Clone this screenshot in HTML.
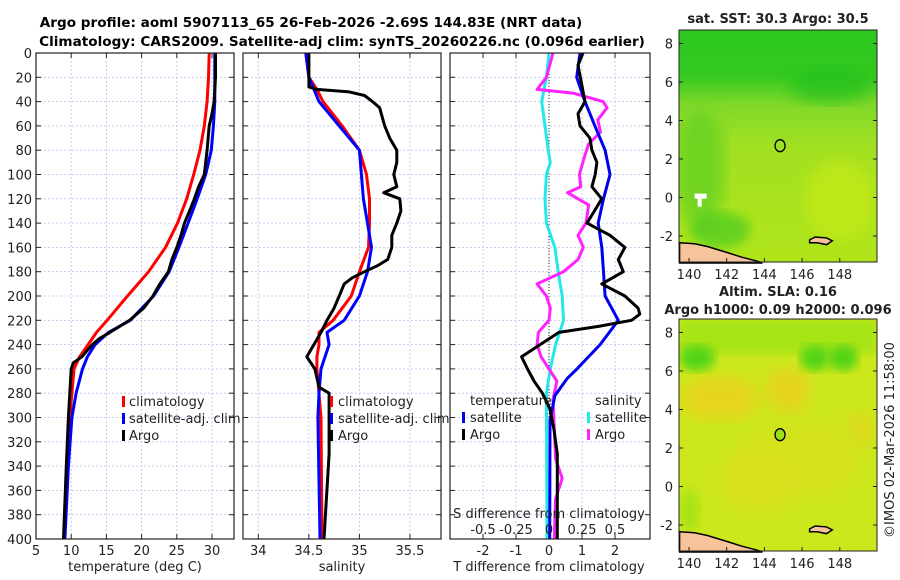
<!DOCTYPE html>
<html><head><meta charset="utf-8">
<style>
html,body{margin:0;padding:0;background:#fff;}
svg{display:block;font-family:"DejaVu Sans","Liberation Sans",sans-serif;}
</style></head>
<body>
<svg id="chart" width="900" height="580" viewBox="0 0 900 580" xmlns="http://www.w3.org/2000/svg">
<text x="311" y="27" font-size="13.6" font-weight="bold" text-anchor="middle">Argo profile: aoml 5907113_65 26-Feb-2026 -2.69S 144.83E (NRT data)</text>
<text x="342" y="46" font-size="13.6" font-weight="bold" text-anchor="middle">Climatology: CARS2009. Satellite-adj clim: synTS_20260226.nc (0.096d earlier)</text>
<g id="p1"></g>
<g id="p2"></g>
<g id="p3"></g>
<g id="m1"></g>
<g id="m2"></g>
<text x="0" y="0" font-size="13" fill="#222" transform="translate(894,440) rotate(-90)" text-anchor="middle">©IMOS 02-Mar-2026 11:58:00</text>
</svg>
<script>
// ---------- data ----------
const yTicks=[0,20,40,60,80,100,120,140,160,180,200,220,240,260,280,300,320,340,360,380,400];
const tTicks=[5,10,15,20,25,30];
const sTicks=[34,34.5,35,35.5];
const dTTicks=[-2,-1,0,1,2];
const dSTicks=[-0.5,-0.25,0,0.25,0.5];
const dSTickLabels=["-0.5","-0.25","0","0.25","0.5"];

const climTDepth=[0,20,40,60,80,100,120,140,160,180,200,220,230,240,250,260,280,300,340,400];
const climT=[29.6,29.5,29.3,28.9,28.3,27.4,26.4,25.1,23.4,21.0,18.0,15.1,13.6,12.4,11.2,10.4,10.1,9.8,9.4,9.0];
const satTDepth=[0,20,40,60,80,100,120,140,160,180,200,220,230,240,250,260,280,300,340,400];
const satT=[30.4,30.4,30.4,30.2,29.9,29.1,27.9,26.6,25.3,23.9,21.7,18.4,15.3,13.4,12.3,11.6,10.7,10.1,9.6,9.1];
const argoTDepth=[0,20,40,50,60,80,100,110,120,130,140,150,160,170,180,190,200,210,220,230,235,240,250,255,260,280,300,340,400];
const argoT=[30.5,30.5,30.3,30.0,29.6,29.3,28.9,28.1,27.5,26.8,26.1,25.6,25.0,24.3,23.8,22.6,21.6,20.3,18.3,15.5,14.0,13.0,11.5,10.3,10.0,9.8,9.6,9.3,8.9];

const climSDepth=[0,20,30,40,60,80,100,120,140,160,180,200,220,230,240,250,260,300,400];
const climS=[34.47,34.5,34.58,34.64,34.83,35.0,35.07,35.1,35.1,35.09,35.0,34.92,34.74,34.6,34.6,34.58,34.58,34.62,34.63];
const satSDepth=[0,20,40,60,80,100,120,140,160,180,200,220,230,240,260,280,300,400];
const satS=[34.47,34.5,34.6,34.8,35.0,35.02,35.04,35.08,35.12,35.08,35.0,34.85,34.68,34.7,34.62,34.6,34.59,34.61];
const argoSDepth=[0,20,28,30,32,35,40,45,60,70,80,90,100,110,115,120,130,140,150,160,170,175,180,185,190,200,210,220,230,240,250,260,275,280,300,330,400];
const argoS=[34.5,34.5,34.5,34.58,34.9,35.05,35.13,35.2,35.25,35.3,35.37,35.37,35.34,35.37,35.24,35.4,35.41,35.37,35.32,35.32,35.28,35.18,35.05,34.93,34.85,34.8,34.75,34.68,34.62,34.55,34.48,34.56,34.6,34.7,34.7,34.7,34.65];

const dTSatDepth=[0,20,40,60,80,100,120,140,160,180,200,220,240,260,268,282,302,400];
const dTSat=[0.94,0.84,1.09,1.39,1.7,1.85,1.65,1.49,1.6,1.65,1.7,2.1,1.55,0.85,0.55,0.18,0.03,0.02];
const dTArgoDepth=[0,10,40,50,60,70,80,90,100,110,120,140,150,160,170,180,190,200,210,215,220,225,230,240,250,260,270,280,293,310,330,400];
const dTArgo=[1.03,0.88,1.09,0.88,0.94,1.24,1.3,1.45,1.4,1.3,1.6,1.15,1.85,2.3,2.1,2.25,1.6,2.3,2.7,2.75,2.5,1.5,0.3,-0.27,-0.83,-0.65,-0.45,-0.2,0.03,0.15,0.25,0.25];
const dSSatDepth=[0,20,40,60,80,90,100,120,140,160,180,200,220,240,260,280,400];
const dSSat=[0.0,-0.02,-0.055,-0.03,-0.005,0.01,-0.02,-0.03,-0.02,0.045,0.07,0.1,0.11,0.05,0.01,-0.02,-0.015];
const dSArgoDepth=[0,20,30,33,40,45,55,65,75,85,100,110,115,125,140,150,160,170,180,190,200,210,220,230,240,250,260,270,285,310,334,350,367,400];
const dSArgo=[0.03,-0.02,-0.09,0.18,0.41,0.44,0.37,0.39,0.3,0.27,0.23,0.24,0.14,0.3,0.28,0.22,0.26,0.22,0.11,-0.09,-0.02,0.01,0.0,-0.08,-0.09,-0.06,0.0,0.06,0.03,0.04,0.05,0.1,0.05,0.04];

const profLat=2.69, profLon=144.83;
const lonTicks=[140,142,144,146,148];
const latTicks=[-2,0,2,4,6,8];

// ---------- helpers ----------
const NS="http://www.w3.org/2000/svg";
function mk(tag,attrs,parent){const e=document.createElementNS(NS,tag);for(const k in attrs)e.setAttribute(k,attrs[k]);parent.appendChild(e);return e;}
const TOP=53,BOT=539;
const yScale=d=>TOP+(d/400)*(BOT-TOP);

function panel(g,x0,x1,xs,xticks,xlabels,showY){
  mk('rect',{x:x0,y:TOP,width:x1-x0,height:BOT-TOP,fill:'#fff'},g);
  yTicks.forEach(t=>{
    const l=mk('line',{x1:x0,x2:x1,y1:yScale(t),y2:yScale(t),stroke:'#b8c4ee','stroke-width':0.8,'stroke-dasharray':'2,2'},g);
    
    
    mk('line',{x1:x0,x2:x0+5,y1:yScale(t),y2:yScale(t),stroke:'#222'},g);
    mk('line',{x1:x1-5,x2:x1,y1:yScale(t),y2:yScale(t),stroke:'#222'},g);
    if(showY){const tx=mk('text',{x:x0-4,y:yScale(t)+5,'font-size':13,'text-anchor':'end',fill:'#222'},g);tx.textContent=t;
      
      }
  });
  xticks.forEach((t,i)=>{
    const X=xs(t);
    const l=mk('line',{x1:X,x2:X,y1:TOP,y2:BOT,stroke:'#b8c4ee','stroke-width':0.8,'stroke-dasharray':'2,2'},g);
    
    
    mk('line',{x1:X,x2:X,y1:BOT-5,y2:BOT,stroke:'#222'},g);
    mk('line',{x1:X,x2:X,y1:TOP,y2:TOP+5,stroke:'#222'},g);
    if(xlabels){const tx=mk('text',{x:X,y:BOT+16,'font-size':13,'text-anchor':'middle',fill:'#222'},g);tx.textContent=xlabels[i];
      
      }
  });
}
function frame(g,x0,x1){mk('rect',{x:x0,y:TOP,width:x1-x0,height:BOT-TOP,fill:'none',stroke:'#222','stroke-width':1.2},g);}
function line(g,xs,vals,depths,color,name,w){
  const pts=vals.map((v,i)=>xs(v).toFixed(1)+','+yScale(depths[i]).toFixed(1)).join(' ');
  const p=mk('polyline',{points:pts,fill:'none',stroke:color,'stroke-width':w||3,'stroke-linejoin':'round'},g);
  
  
}
function txt(g,x,y,s,size,anchor,name,extra){
  const t=mk('text',Object.assign({x:x,y:y,'font-size':size,'text-anchor':anchor||'start',fill:'#222'},extra||{}),g);t.textContent=s;
  
  
  return t;
}
function legendMark(g,x,y,color,name){
  const r=mk('rect',{x:x,y:y-10,width:3,height:11,fill:color},g);
  
  
}

// ---------- panel 1: temperature ----------
const g1=document.getElementById('p1');
const xT=v=>36+(v-5)*7.04;
panel(g1,36,234,xT,tTicks,tTicks,true);
line(g1,xT,climT,climTDepth,'#ff0000','climatology-temp-line');
line(g1,xT,satT,satTDepth,'#0000ff','satellite-temp-line');
line(g1,xT,argoT,argoTDepth,'#000000','argo-temp-line');
frame(g1,36,234);
legendMark(g1,122,406,'#ff0000','legend-climatology-mark');
txt(g1,129,406,'climatology',13,'start','legend-climatology');
legendMark(g1,122,423,'#0000ff','legend-satellite-mark');
txt(g1,129,423,'satellite-adj. clim',13,'start','legend-satellite');
legendMark(g1,122,440,'#000000','legend-argo-mark');
txt(g1,129,440,'Argo',13,'start','legend-argo');
txt(g1,135,571,'temperature (deg C)',13,'middle','x-axis-title-temperature');

// ---------- panel 2: salinity ----------
const g2=document.getElementById('p2');
const xS=v=>258.3+(v-34)*101.1;
panel(g2,243,441,xS,sTicks,sTicks,false);
line(g2,xS,climS,climSDepth,'#ff0000','climatology-salinity-line');
line(g2,xS,satS,satSDepth,'#0000ff','satellite-salinity-line');
line(g2,xS,argoS,argoSDepth,'#000000','argo-salinity-line');
frame(g2,243,441);
legendMark(g2,330,406,'#ff0000','legend2-climatology-mark');
txt(g2,338,406,'climatology',13,'start','legend2-climatology');
legendMark(g2,330,423,'#0000ff','legend2-satellite-mark');
txt(g2,338,423,'satellite-adj. clim',13,'start','legend2-satellite');
legendMark(g2,330,440,'#000000','legend2-argo-mark');
txt(g2,338,440,'Argo',13,'start','legend2-argo');
txt(g2,342,571,'salinity',13,'middle','x-axis-title-salinity');

// ---------- panel 3: differences ----------
const g3=document.getElementById('p3');
const xdT=v=>549+v*33;
const xdS=v=>549+v*132;
panel(g3,450,650,xdT,dTTicks,dTTicks,false);
const z=mk('line',{x1:xdT(0),x2:xdT(0),y1:TOP,y2:BOT,stroke:'#333','stroke-width':1,'stroke-dasharray':'1,2'},g3);


line(g3,xdS,dSSat,dSSatDepth,'#22e8e8','satellite-salinity-diff-line');
line(g3,xdS,dSArgo,dSArgoDepth,'#ff22ff','argo-salinity-diff-line');
line(g3,xdT,dTSat,dTSatDepth,'#0000ee','satellite-temp-diff-line');
line(g3,xdT,dTArgo,dTArgoDepth,'#000000','argo-temp-diff-line');
frame(g3,450,650);
txt(g3,470,405,'temperature',13,'start','legend3-temperature-heading');
txt(g3,595,405,'salinity',13,'start','legend3-salinity-heading');
legendMark(g3,462,422,'#0000ee','legend3-temp-satellite-mark');
txt(g3,470,422,'satellite',13,'start','legend3-temp-satellite');
legendMark(g3,462,439,'#000000','legend3-temp-argo-mark');
txt(g3,470,439,'Argo',13,'start','legend3-temp-argo');
legendMark(g3,587,422,'#22e8e8','legend3-sal-satellite-mark');
txt(g3,595,422,'satellite',13,'start','legend3-sal-satellite');
legendMark(g3,587,439,'#ff22ff','legend3-sal-argo-mark');
txt(g3,595,439,'Argo',13,'start','legend3-sal-argo');
txt(g3,549,518,'S difference from climatology',13,'middle','s-axis-title');
dSTicks.forEach((t,i)=>{
  txt(g3,xdS(t),534,dSTickLabels[i],13,'middle','s-tick-label');
});
txt(g3,549,571,'T difference from climatology',13,'middle','x-axis-title-tdiff');

// ---------- maps ----------
function map(gid,y0,y1,title,title2,fillFn,lonPx){
  const g=document.getElementById(gid);
  const x0=679,x1=877;
  const lonS=v=>lonPx(v);
  const latS=v=>y0+(8.7-v)*((y1-y0)/(8.7+3.35));
  fillFn(g,x0,y0,x1,y1,lonS,latS);
  const land=[[139.5,-2.35],[140.3,-2.4],[141,-2.55],[142,-2.85],[142.8,-3.1],[143.6,-3.3],[143.9,-3.4],[139.5,-3.4]];
  const lp=mk('polygon',{points:land.map(p=>lonS(p[0])+','+latS(p[1])).join(' '),fill:'#f7c39a',stroke:'#000','stroke-width':1.5},g);
  
  
  const isl=[[146.4,-2.2],[146.7,-2.05],[147.3,-2.1],[147.6,-2.25],[147.3,-2.45],[146.8,-2.35],[146.4,-2.35]];
  const ip=mk('polygon',{points:isl.map(p=>lonS(p[0])+','+latS(p[1])).join(' '),fill:'#f7c39a',stroke:'#000','stroke-width':1.5},g);
  
  
  const c=mk('ellipse',{cx:lonS(profLon),cy:latS(profLat),rx:5,ry:6,fill:gid==='m2'?'#9be01a':'none',stroke:'#000','stroke-width':1.3},g);
  
  
  mk('rect',{x:x0,y:y0,width:x1-x0,height:y1-y0,fill:'none',stroke:'#222','stroke-width':1},g);
  lonTicks.forEach(t=>{
    mk('line',{x1:lonS(t),x2:lonS(t),y1:y1-4,y2:y1,stroke:'#222'},g);
    txt(g,lonS(t),y1+17,String(t),13,'middle','map-lon-tick');
  });
  latTicks.forEach(t=>{
    mk('line',{x1:x0,x2:x0+4,y1:latS(t),y2:latS(t),stroke:'#222'},g);
    mk('line',{x1:x1-4,x2:x1,y1:latS(t),y2:latS(t),stroke:'#222'},g);
    txt(g,x0-6,latS(t)+5,String(t),13,'end','map-lat-tick');
  });
  if(title2){txt(g,778,y0-23,title,13,'middle','map-title',{'font-weight':'bold'});txt(g,778,y0-5,title2,13,'middle','map-subtitle',{'font-weight':'bold'});}
  else txt(g,778,y0-7,title,13,'middle','map-title',{'font-weight':'bold'});
}
const svg=document.getElementById('chart');
const defs=mk('defs',{},svg);
defs.innerHTML=`
<linearGradient id="sstg" x1="0" y1="0" x2="0" y2="1">
<stop offset="0" stop-color="#2cc81f"/><stop offset="0.2" stop-color="#34c920"/>
<stop offset="0.32" stop-color="#80d82a"/><stop offset="0.5" stop-color="#a2e022"/>
<stop offset="1" stop-color="#b0e41a"/></linearGradient>
<filter id="blur8"><feGaussianBlur stdDeviation="8"/></filter>
<filter id="blur5"><feGaussianBlur stdDeviation="5"/></filter>
<clipPath id="cm1"><rect x="679" y="30" width="198" height="232"/></clipPath>
<clipPath id="cm2"><rect x="679" y="319" width="198" height="232"/></clipPath>`;

map('m1',30,262,'sat. SST: 30.3 Argo: 30.5',null,function(g,x0,y0,x1,y1,lonS,latS){
  const cg=mk('g',{'clip-path':'url(#cm1)'},g);
  mk('rect',{x:x0,y:y0,width:x1-x0,height:y1-y0,fill:'url(#sstg)'},cg);
  mk('ellipse',{cx:700,cy:170,rx:25,ry:60,fill:'#5ccf24',opacity:0.7,filter:'url(#blur8)'},cg);
  mk('ellipse',{cx:840,cy:200,rx:35,ry:40,fill:'#c4ea14',opacity:0.8,filter:'url(#blur8)'},cg);
  mk('ellipse',{cx:720,cy:230,rx:30,ry:18,fill:'#48cb22',opacity:0.7,filter:'url(#blur5)'},cg);
  mk('ellipse',{cx:830,cy:85,rx:40,ry:18,fill:'#22c01c',opacity:0.7,filter:'url(#blur8)'},cg);
  const w=mk('path',{d:`M${lonS(140.3)} ${latS(0.2)} h12 v5 h-5 v8 h-4 v-8 h-3 z`,fill:'#fff'},cg);
  
  
},v=>689+(v-140)*18.85);

map('m2',319,551,'Altim. SLA: 0.16','Argo h1000: 0.09 h2000: 0.096',function(g,x0,y0,x1,y1,lonS,latS){
  const cg=mk('g',{'clip-path':'url(#cm2)'},g);
  mk('rect',{x:x0,y:y0,width:x1-x0,height:y1-y0,fill:'#cce81c'},cg);
  mk('rect',{x:x0,y:y0,width:x1-x0,height:35,fill:'#a6e414',filter:'url(#blur5)'},cg);
  [[720,398,40,22,'#e6d41e'],[788,390,22,22,'#e6d21e'],[860,430,14,18,'#ddd81c'],[800,460,60,40,'#d4e21c'],[760,480,40,30,'#d8e01c']].forEach(a=>mk('ellipse',{cx:a[0],cy:a[1],rx:a[2],ry:a[3],fill:a[4],filter:'url(#blur8)'},cg));
  [[697,358,18,13],[815,358,15,13],[843,358,15,13]].forEach(a=>mk('ellipse',{cx:a[0],cy:a[1],rx:a[2],ry:a[3],fill:'#52d418',filter:'url(#blur5)'},cg));
  mk('ellipse',{cx:690,cy:510,rx:10,ry:22,fill:'#a8e214',filter:'url(#blur5)'},cg);
},v=>689+(v-140)*18.85);
</script>
</body></html>
